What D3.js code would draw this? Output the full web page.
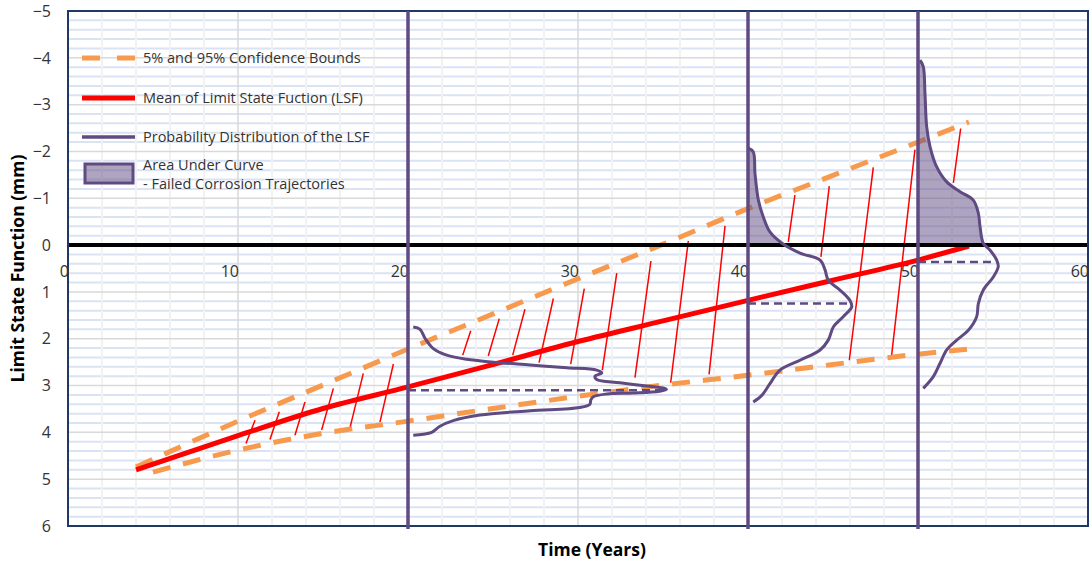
<!DOCTYPE html>
<html>
<head>
<meta charset="utf-8">
<script src="https://cdn.jsdelivr.net/npm/d3@7"></script>
<style>
    body { margin: 0; background: #fff; }
    svg { display: block; font-family: "Open Sans", sans-serif; }
</style>
</head>
<body>
<div id="chart"></div>
<script>
// mean of the limit state function and the 5% / 95% bounds
const meanYears = [4, 10, 15, 20, 25, 30, 35, 40, 45, 50, 53]
const meanLSF = [4.8, 4.07, 3.49, 3.03, 2.55, 2.06, 1.62, 1.18, 0.75, 0.32, 0.02]
const upperYears = [4, 10, 15, 20, 25, 30, 35, 40, 45, 50, 53]
const upperBound = [4.74, 3.76, 2.99, 2.22, 1.47, 0.72, -0.02, -0.78, -1.49, -2.2, -2.63]
const lowerYears = [5, 10, 15, 20, 25, 30, 35, 40, 45, 50, 53]
const lowerBound = [4.85, 4.38, 4.02, 3.76, 3.49, 3.23, 2.99, 2.78, 2.55, 2.33, 2.22]

// red trajectory lines: [t start, lsf start, t end, lsf end]
const trajectories = [
    [10.47, 4.24, 11.0, 3.74],
    [11.88, 4.15, 12.43, 3.56],
    [13.35, 4.06, 13.94, 3.35],
    [14.92, 3.95, 15.61, 3.06],
    [16.59, 3.90, 17.37, 2.74],
    [18.35, 3.78, 19.14, 2.54],
    [23.22, 2.35, 23.69, 1.83],
    [24.72, 2.37, 25.37, 1.57],
    [26.16, 2.35, 26.88, 1.37],
    [27.71, 2.51, 28.55, 1.14],
    [29.57, 2.54, 30.37, 0.93],
    [31.43, 2.67, 32.28, 0.60],
    [33.35, 2.83, 34.29, 0.34],
    [35.45, 2.94, 36.49, -0.09],
    [37.71, 2.76, 38.65, -0.41],
    [42.37, -0.07, 42.76, -1.07],
    [44.29, 0.25, 44.78, -1.26],
    [45.96, 2.46, 47.37, -1.66],
    [48.45, 2.35, 49.82, -2.04],
    [52.08, -1.33, 52.51, -2.49]
]

// probability distributions: [lsf, density drawn as years to the right]
const distTimes = [20, 40, 50]
const dist20 = [[1.75, 0.31], [1.80, 0.71], [1.99, 1.0], [2.21, 1.49], [2.35, 2.28], [2.44, 3.45], [2.50, 5.02],
    [2.56, 7.18], [2.62, 9.34], [2.67, 11.1], [2.73, 11.4], [2.80, 11.0], [2.87, 11.1], [2.94, 12.47], [3.01, 14.04],
    [3.06, 15.1], [3.08, 15.2], [3.12, 14.8], [3.16, 13.25], [3.18, 11.7], [3.24, 10.9], [3.31, 10.75], [3.40, 10.7],
    [3.47, 10.1], [3.54, 7.18], [3.63, 4.24], [3.75, 2.66], [3.87, 1.88], [4.00, 1.39], [4.04, 0.9], [4.06, 0.31]]
const dist40 = [[-2.07, 0.02], [-1.99, 0.31], [-1.53, 0.41], [-0.96, 0.61], [-0.60, 0.9], [-0.28, 1.29], [-0.04, 2.0],
    [0.17, 3.06], [0.32, 4.24], [0.53, 4.53], [0.75, 4.72], [0.96, 5.41], [1.18, 5.99], [1.32, 6.1], [1.53, 5.6],
    [1.75, 5.02], [2.03, 4.72], [2.24, 4.24], [2.46, 3.06], [2.67, 1.88], [2.96, 1.29], [3.21, 0.81], [3.35, 0.31]]
const dist50 = [[-3.95, 0.12], [-3.81, 0.31], [-3.24, 0.41], [-2.53, 0.51], [-2.10, 0.71], [-1.67, 1.1], [-1.35, 1.69],
    [-1.14, 2.47], [-0.96, 3.25], [-0.68, 3.55], [-0.39, 3.65], [-0.04, 3.84], [0.11, 4.24], [0.32, 4.63], [0.46, 4.72],
    [0.68, 4.43], [0.96, 3.84], [1.25, 3.55], [1.53, 3.45], [1.82, 2.96], [2.03, 2.28], [2.24, 1.69], [2.53, 1.29],
    [2.81, 0.9], [3.06, 0.31]]
const distMeans = [[3.1, 15.1], [1.25, 5.95], [0.36, 4.7]]   // [lsf, peak density]
const shadedDists = [1, 2]   // which distributions show the failed area

const xTicks = [0, 10, 20, 30, 40, 50, 60]
const yTicks = [-5, -4, -3, -2, -1, 0, 1, 2, 3, 4, 5, 6]

const legendLabels = ["5% and 95% Confidence Bounds", "Mean of Limit State Fuction (LSF)",
    "Probability Distribution of the LSF", ["Area Under Curve", "- Failed Corrosion Trajectories"]]

const W = 1092, H = 567
const margin = { top: 11, right: 4, bottom: 41, left: 68 }
const purple = "#5f4a82"
const orange = "#f79a4d"

const svg = d3.select("#chart")
    .append("svg")
    .attr("width", W)
    .attr("height", H)

const x = d3.scaleLinear().domain([0, 60]).range([margin.left, W - margin.right])
const y = d3.scaleLinear().domain([-5, 6]).range([margin.top, H - margin.bottom])

// gridlines
const grid = svg.append("g")
grid.selectAll(".hminor")
    .data(d3.range(-50, 61, 2).map(d => d / 10).filter(d => d % 1 != 0))
    .join("line")
    .attr("x1", x(0)).attr("x2", x(60))
    .attr("y1", d => y(d)).attr("y2", d => y(d))
    .attr("stroke", "#dae3f3").attr("stroke-width", 2)

grid.selectAll(".vminor")
    .data(d3.range(2, 60, 2).filter(d => d % 10 != 0))
    .join("line")
    .attr("x1", d => x(d)).attr("x2", d => x(d))
    .attr("y1", y(-5)).attr("y2", y(6))
    .attr("stroke", "#f2f2f2").attr("stroke-width", 2)

grid.selectAll(".hmajor")
    .data(yTicks)
    .join("line")
    .attr("x1", x(0)).attr("x2", x(60))
    .attr("y1", d => y(d)).attr("y2", d => y(d))
    .attr("stroke", "#d9d9d9").attr("stroke-width", 1.5)

grid.selectAll(".vmajor")
    .data(xTicks)
    .join("line")
    .attr("x1", d => x(d)).attr("x2", d => x(d))
    .attr("y1", y(-5)).attr("y2", y(6))
    .attr("stroke", "#d9d9d9").attr("stroke-width", 1.5)

// zero line
svg.append("line")
    .attr("x1", x(0)).attr("x2", x(60))
    .attr("y1", y(0)).attr("y2", y(0))
    .attr("stroke", "#000").attr("stroke-width", 4)

// axis labels
svg.append("g")
    .selectAll("text")
    .data(yTicks)
    .join("text")
    .attr("x", 51)
    .attr("y", d => y(d))
    .attr("dy", "0.36em")
    .attr("text-anchor", "end")
    .style("font-size", "16px")
    .style("fill", "#333")
    .text(d => d < 0 ? "\u2212" + Math.abs(d) : d)

svg.append("g")
    .selectAll("text")
    .data(xTicks)
    .join("text")
    .attr("x", d => x(d) + 1)
    .attr("y", 277)
    .attr("text-anchor", "end")
    .style("font-size", "16px")
    .style("fill", "#333")
    .text(d => d)

svg.append("text")
    .attr("transform", `translate(18, ${(y(-5) + y(6)) / 2}) rotate(-90)`)
    .attr("dy", "0.35em")
    .attr("text-anchor", "middle")
    .style("font-size", "17.5px")
    .style("font-weight", "bold")
    .text("Limit State Function (mm)")

svg.append("text")
    .attr("x", 592)
    .attr("y", 556)
    .attr("text-anchor", "middle")
    .style("font-size", "17.5px")
    .style("font-weight", "bold")
    .text("Time (Years)")

// trajectories
svg.append("g")
    .selectAll("line")
    .data(trajectories)
    .join("line")
    .attr("x1", d => x(d[0])).attr("y1", d => y(d[1]))
    .attr("x2", d => x(d[2])).attr("y2", d => y(d[3]))
    .attr("stroke", "#ff0000").attr("stroke-width", 1.5)

const lineGen = d3.line().x(d => x(d[0])).y(d => y(d[1])).curve(d3.curveMonotoneX)

svg.append("path")
    .datum(upperYears.map((t, i) => [t, upperBound[i]]))
    .attr("d", lineGen)
    .attr("fill", "none").attr("stroke", orange).attr("stroke-width", 5)
    .attr("stroke-dasharray", "18,13")

svg.append("path")
    .datum(lowerYears.map((t, i) => [t, lowerBound[i]]))
    .attr("d", lineGen)
    .attr("fill", "none").attr("stroke", orange).attr("stroke-width", 5)
    .attr("stroke-dasharray", "18,13")

svg.append("path")
    .datum(meanYears.map((t, i) => [t, meanLSF[i]]))
    .attr("d", lineGen)
    .attr("fill", "none").attr("stroke", "#ff0000").attr("stroke-width", 5)

// distributions
const dists = [dist20, dist40, dist50]
const curve = d3.curveCatmullRom.alpha(0.5)

shadedDists.forEach(i => {
    const t0 = distTimes[i]
    const pts = dists[i].filter(d => d[0] <= 0)
    const a = pts[pts.length - 1], b = dists[i][pts.length]
    pts.push([0, a[1] + (b[1] - a[1]) * (0 - a[0]) / (b[0] - a[0])])
    svg.append("path")
        .datum(pts)
        .attr("d", d3.area()
            .y(d => y(d[0]))
            .x0(x(t0))
            .x1(d => x(t0 + d[1]))
            .curve(curve))
        .attr("fill", purple).attr("fill-opacity", 0.5)
})

// redraw zero line over the shaded parts
svg.append("line")
    .attr("x1", x(0)).attr("x2", x(60))
    .attr("y1", y(0)).attr("y2", y(0))
    .attr("stroke", "#000").attr("stroke-width", 4)

dists.forEach((dist, i) => {
    const t0 = distTimes[i]
    svg.append("path")
        .datum(dist)
        .attr("d", d3.line()
            .x(d => x(t0 + d[1]))
            .y(d => y(d[0]))
            .curve(curve))
        .attr("fill", "none").attr("stroke", purple).attr("stroke-width", 3)

    svg.append("line")
        .attr("x1", x(t0)).attr("x2", x(t0 + distMeans[i][1]))
        .attr("y1", y(distMeans[i][0])).attr("y2", y(distMeans[i][0]))
        .attr("stroke", purple).attr("stroke-width", 2.5)
        .attr("stroke-dasharray", "8,5")
})

// plot border
svg.append("rect")
    .attr("x", x(0)).attr("y", y(-5))
    .attr("width", x(60) - x(0)).attr("height", y(6) - y(-5))
    .attr("fill", "none").attr("stroke", "#1f3864").attr("stroke-width", 2)

svg.append("g")
    .selectAll("line")
    .data(distTimes)
    .join("line")
    .attr("x1", d => x(d)).attr("x2", d => x(d))
    .attr("y1", y(-5)).attr("y2", y(6) + 3)
    .attr("stroke", purple).attr("stroke-width", 3.5)

// legend
const legend = svg.append("g")
const legendY = [58, 98, 137, 174]

legend.append("line")
    .attr("x1", 82).attr("x2", 135).attr("y1", legendY[0]).attr("y2", legendY[0])
    .attr("stroke", orange).attr("stroke-width", 5).attr("stroke-dasharray", "18,17")
legend.append("line")
    .attr("x1", 82).attr("x2", 135).attr("y1", legendY[1]).attr("y2", legendY[1])
    .attr("stroke", "#ff0000").attr("stroke-width", 5)
legend.append("line")
    .attr("x1", 82).attr("x2", 135).attr("y1", legendY[2]).attr("y2", legendY[2])
    .attr("stroke", purple).attr("stroke-width", 3.5)
legend.append("rect")
    .attr("x", 85).attr("y", 164).attr("width", 48).attr("height", 19)
    .attr("fill", purple).attr("fill-opacity", 0.5)
legend.append("rect")
    .attr("x", 85).attr("y", 164).attr("width", 48).attr("height", 19)
    .attr("fill", "none").attr("stroke", purple).attr("stroke-width", 3)

legendLabels.forEach((label, i) => {
    const lines = Array.isArray(label) ? label : [label]
    lines.forEach((txt, j) => {
        legend.append("text")
            .attr("x", 143)
            .attr("y", (lines.length > 1 ? 165 + j * 19 : legendY[i]))
            .attr("dy", "0.35em")
            .style("font-size", "14.5px")
            .style("fill", "#333")
            .text(txt)
    })
})
</script>
</body>
</html>
